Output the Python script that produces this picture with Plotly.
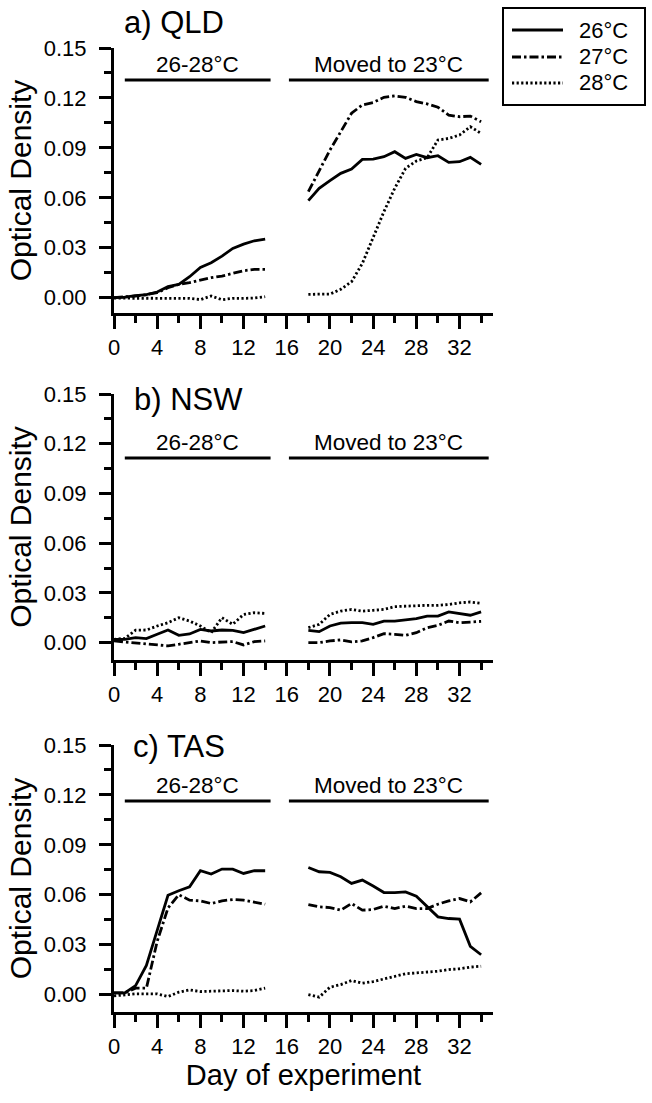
import plotly.graph_objects as go

# ---------------- data ----------------
days_phase1 = list(range(0, 15))
days_phase2 = list(range(18, 35))
series_names = ["26°C", "27°C", "28°C"]
panel_titles = ["a) QLD", "b) NSW", "c) TAS"]
phase_labels = ["26-28°C", "Moved to 23°C"]

# Panel a) QLD
qld_26_p1 = [0.0, 0.0003, 0.0012, 0.0018, 0.0034, 0.0066, 0.008, 0.0126, 0.0182, 0.021, 0.025, 0.0296, 0.0322, 0.0342, 0.0352]
qld_26_p2 = [0.0583, 0.0657, 0.0703, 0.0747, 0.0773, 0.0831, 0.0833, 0.0847, 0.0877, 0.0837, 0.0861, 0.0841, 0.0853, 0.0813, 0.0817, 0.0843, 0.0801]
qld_27_p1 = [0.0, 0.0004, 0.001, 0.0018, 0.003, 0.006, 0.008, 0.009, 0.0106, 0.012, 0.013, 0.0146, 0.0162, 0.017, 0.017]
qld_27_p2 = [0.0637, 0.0767, 0.0887, 0.0997, 0.1108, 0.1158, 0.1172, 0.1204, 0.1212, 0.1204, 0.1178, 0.1164, 0.1144, 0.1097, 0.1087, 0.1091, 0.1057]
qld_28_p1 = [-0.0003, -0.0003, -0.0003, -0.0003, -0.0003, -0.0003, -0.0003, -0.0004, -0.0012, 0.001, -0.0012, -0.0004, -0.0004, -0.0002, 0.0006]
qld_28_p2 = [0.002, 0.0022, 0.0022, 0.005, 0.0096, 0.0206, 0.0367, 0.0517, 0.0657, 0.0777, 0.0821, 0.0841, 0.0947, 0.0957, 0.0977, 0.1027, 0.0987]

# Panel b) NSW
nsw_26_p1 = [0.002, 0.002, 0.003, 0.0024, 0.005, 0.0076, 0.0044, 0.0052, 0.008, 0.007, 0.0076, 0.0074, 0.006, 0.008, 0.010]
nsw_26_p2 = [0.0074, 0.0066, 0.010, 0.0117, 0.012, 0.012, 0.011, 0.013, 0.013, 0.0137, 0.0145, 0.016, 0.016, 0.0185, 0.0177, 0.0165, 0.0185]
nsw_27_p1 = [0.001, 0.0004, 0.0, -0.0004, -0.0014, -0.002, -0.001, 0.0, 0.001, 0.0, 0.0004, 0.0006, -0.0014, 0.0006, 0.001]
nsw_27_p2 = [0.0, 0.0, 0.001, 0.0016, 0.0004, 0.001, 0.003, 0.0054, 0.005, 0.0044, 0.006, 0.009, 0.0104, 0.013, 0.012, 0.0125, 0.0128]
nsw_28_p1 = [0.002, 0.0025, 0.0075, 0.0076, 0.010, 0.012, 0.015, 0.013, 0.010, 0.006, 0.015, 0.011, 0.017, 0.018, 0.0176]
nsw_28_p2 = [0.009, 0.011, 0.017, 0.019, 0.020, 0.019, 0.0195, 0.020, 0.0217, 0.022, 0.0225, 0.0225, 0.0225, 0.023, 0.024, 0.0245, 0.0237]

# Panel c) TAS
tas_26_p1 = [0.001, 0.001, 0.0054, 0.0175, 0.0386, 0.0597, 0.0624, 0.0648, 0.0744, 0.0724, 0.0754, 0.0754, 0.0728, 0.0744, 0.0744]
tas_26_p2 = [0.0764, 0.0738, 0.0734, 0.0708, 0.0668, 0.0688, 0.0652, 0.0613, 0.0613, 0.0617, 0.0591, 0.0527, 0.0467, 0.0457, 0.0453, 0.029, 0.0239]
tas_27_p1 = [0.001, 0.001, 0.0038, 0.0038, 0.032, 0.052, 0.060, 0.0567, 0.0563, 0.0547, 0.0563, 0.0571, 0.0567, 0.0557, 0.0543]
tas_27_p2 = [0.0541, 0.0527, 0.0523, 0.0507, 0.0547, 0.0507, 0.0511, 0.0531, 0.0517, 0.0531, 0.0517, 0.0517, 0.0543, 0.0563, 0.0577, 0.0557, 0.0611]
tas_28_p1 = [-0.0008, 0.0, 0.0004, 0.0004, 0.0004, -0.0012, 0.0014, 0.0028, 0.0018, 0.002, 0.0024, 0.0024, 0.002, 0.0024, 0.0038]
tas_28_p2 = [0.0, -0.0016, 0.0044, 0.006, 0.0084, 0.0068, 0.0078, 0.0094, 0.0108, 0.0125, 0.013, 0.0135, 0.014, 0.015, 0.0155, 0.0165, 0.017]

# horizontal phase bars (value on the y axis for each panel)
phase_bar_y = [0.1308, 0.1114, 0.1163]
phase_bar_x = [(1.0, 14.5), (16.2, 34.7)]

panels = [
    [(qld_26_p1, qld_26_p2), (qld_27_p1, qld_27_p2), (qld_28_p1, qld_28_p2)],
    [(nsw_26_p1, nsw_26_p2), (nsw_27_p1, nsw_27_p2), (nsw_28_p1, nsw_28_p2)],
    [(tas_26_p1, tas_26_p2), (tas_27_p1, tas_27_p2), (tas_28_p1, tas_28_p2)],
]

# ---------------- layout geometry ----------------
W, H = 652, 1103
LW = 2.8
dashes = ["solid", "9px,3px,2.5px,3px", "2.2px,2.4px"]
FONT = "Liberation Sans, Arial, sans-serif"


def fx(px):
    return px / W


def fy(py):
    return 1 - py / H


# pixel positions (top, bottom) for each panel
panel_px = [(48, 313), (394, 660), (745, 1012)]
y_ranges = [[-0.0092, 0.15], [-0.0105, 0.15], [-0.0105, 0.15]]
x_dom = [fx(114), fx(493)]

fig = go.Figure()

for i, panel in enumerate(panels):
    xa = "x" if i == 0 else f"x{i+1}"
    ya = "y" if i == 0 else f"y{i+1}"
    for j, (p1, p2) in enumerate(panel):
        xs = days_phase1 + [None] + days_phase2
        ys = p1 + [None] + p2
        fig.add_trace(go.Scatter(
            x=xs, y=ys, mode="lines", name=series_names[j],
            line=dict(color="black", width=LW, dash=dashes[j]),
            connectgaps=False, showlegend=False,
            xaxis=xa, yaxis=ya,
        ))

axis_common = dict(
    showline=True, linecolor="black", linewidth=3,
    ticks="outside", tickcolor="black", tickwidth=3,
    showgrid=False, zeroline=False, mirror=False, automargin=False,
    tickfont=dict(family=FONT, size=22, color="black"),
)

layout = dict(
    width=W, height=H,
    margin=dict(l=0, r=0, t=0, b=0, autoexpand=False),
    paper_bgcolor="white", plot_bgcolor="white",
    font=dict(family=FONT, color="black"),
    showlegend=False,
    shapes=[], annotations=[],
)

for i in range(3):
    top, bot = panel_px[i]
    xk = "xaxis" if i == 0 else f"xaxis{i+1}"
    yk = "yaxis" if i == 0 else f"yaxis{i+1}"
    yref = "y" if i == 0 else f"y{i+1}"
    xref = "x" if i == 0 else f"x{i+1}"
    layout[xk] = dict(
        axis_common, domain=x_dom, range=[0, 35.1], anchor=yref,
        tick0=0, dtick=4, ticklen=13,
        minor=dict(dtick=2, tick0=0, ticklen=7, tickwidth=3, tickcolor="black", ticks="outside"),
        title=dict(text="Day of experiment" if i == 2 else "",
                   font=dict(family=FONT, size=29, color="black"), standoff=5),
    )
    layout[yk] = dict(
        axis_common, domain=[fy(bot), fy(top)], range=y_ranges[i], anchor=xref,
        tick0=0, dtick=0.03, tickformat=".2f", ticklen=12, ticklabelstandoff=8,
        minor=dict(dtick=0.015, tick0=0, ticklen=7, tickwidth=3, tickcolor="black", ticks="outside"),
        title=dict(text="Optical Density", font=dict(family=FONT, size=30, color="black"), standoff=4),
    )
    # phase bars + labels
    for k, (x0, x1) in enumerate(phase_bar_x):
        layout["shapes"].append(dict(
            type="line", xref=xref, yref=yref, x0=x0, x1=x1,
            y0=phase_bar_y[i], y1=phase_bar_y[i],
            line=dict(color="black", width=3),
        ))
        layout["annotations"].append(dict(
            xref=xref, yref=yref, x=(x0 + x1) / 2, y=phase_bar_y[i],
            text=phase_labels[k], showarrow=False, xanchor="center", yanchor="bottom",
            yshift=1, font=dict(family=FONT, size=22.5, color="black"),
        ))

# panel titles
title_pos = [(122, 23), (132, 399), (131, 746)]
for i, (px, py) in enumerate(title_pos):
    layout["annotations"].append(dict(
        xref="paper", yref="paper", x=fx(px), y=fy(py),
        text=panel_titles[i], showarrow=False, xanchor="left", yanchor="middle",
        font=dict(family=FONT, size=31, color="black"),
    ))

# legend box (drawn to match the reference's boxed key)
layout["shapes"].append(dict(
    type="rect", xref="paper", yref="paper",
    x0=fx(503), x1=fx(645), y0=fy(105), y1=fy(8),
    line=dict(color="black", width=2), fillcolor="white",
))
legend_rows = [30, 57, 83]
for j, ry in enumerate(legend_rows):
    layout["shapes"].append(dict(
        type="line", xref="paper", yref="paper",
        x0=fx(512), x1=fx(563), y0=fy(ry), y1=fy(ry),
        line=dict(color="black", width=LW, dash=dashes[j]),
    ))
    layout["annotations"].append(dict(
        xref="paper", yref="paper", x=fx(577), y=fy(ry),
        text=series_names[j], showarrow=False, xanchor="left", yanchor="middle",
        font=dict(family=FONT, size=22, color="black"),
    ))

fig.update_layout(layout)
fig.write_html(
    "out.html",
    config={"displayModeBar": False},
    post_script="document.body.style.margin='0';document.body.style.overflow='hidden';",
)
